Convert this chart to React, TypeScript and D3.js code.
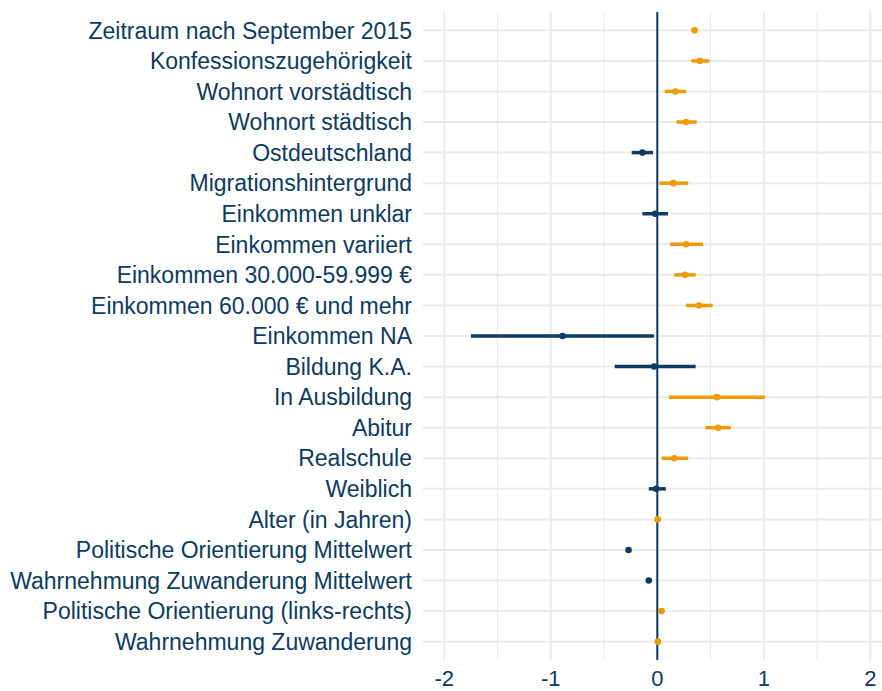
import React from 'react';
import * as d3 from 'd3';

// coefficient plot, rows from top to bottom
const labels = [
  'Zeitraum nach September 2015',
  'Konfessionszugehörigkeit',
  'Wohnort vorstädtisch',
  'Wohnort städtisch',
  'Ostdeutschland',
  'Migrationshintergrund',
  'Einkommen unklar',
  'Einkommen variiert',
  'Einkommen 30.000-59.999 €',
  'Einkommen 60.000 € und mehr',
  'Einkommen NA',
  'Bildung K.A.',
  'In Ausbildung',
  'Abitur',
  'Realschule',
  'Weiblich',
  'Alter (in Jahren)',
  'Politische Orientierung Mittelwert',
  'Wahrnehmung Zuwanderung Mittelwert',
  'Politische Orientierung (links-rechts)',
  'Wahrnehmung Zuwanderung',
];
const estimate = [0.35, 0.40, 0.17, 0.27, -0.14, 0.15, -0.02, 0.27, 0.26, 0.39, -0.89, -0.03, 0.56, 0.57, 0.16, -0.01, 0.003, -0.27, -0.08, 0.04, 0.006];
const lower = [0.33, 0.32, 0.07, 0.18, -0.24, 0.02, -0.14, 0.12, 0.16, 0.27, -1.75, -0.40, 0.11, 0.45, 0.04, -0.08, -0.003, -0.28, -0.09, 0.03, 0.0];
const upper = [0.37, 0.49, 0.27, 0.37, -0.04, 0.29, 0.10, 0.43, 0.36, 0.52, -0.03, 0.36, 1.01, 0.69, 0.29, 0.08, 0.01, -0.26, -0.07, 0.05, 0.012];
const xTicks = [-2, -1, 0, 1, 2];
const xMinor = [-1.5, -0.5, 0.5, 1.5];

const navy = '#0b3b63';
const orange = '#ee9a00';
const grid = '#ebebeb';

export default function App() {
  const width = 882;
  const height = 691;
  const panel = { left: 423, top: 12, bottom: 660 };

  const x = d3.scaleLinear().domain([-2.2, 2.2]).range([panel.left, panel.left + 4.4 * 106.5]);
  const y = d3.scalePoint<string>().domain(labels).range([panel.top, panel.bottom]).padding(0.6);

  const rows = labels.map((name, i) => ({
    name,
    est: estimate[i],
    lo: lower[i],
    hi: upper[i],
    color: estimate[i] > 0 ? orange : navy,
  }));

  const font = '"Liberation Sans", Arial, sans-serif';

  return (
    <svg width={width} height={height} style={{ position: 'absolute', left: 0, top: 0 }} fontFamily={font}>
      <rect width={width} height={height} fill="#fff" />
      {xMinor.map((t) => (
        <line key={'m' + t} x1={x(t)} x2={x(t)} y1={panel.top} y2={panel.bottom} stroke={grid} strokeWidth={1} />
      ))}
      {xTicks.map((t) => (
        <line key={'g' + t} x1={x(t)} x2={x(t)} y1={panel.top} y2={panel.bottom} stroke={grid} strokeWidth={2} />
      ))}
      {labels.map((l) => (
        <line key={'h' + l} x1={panel.left} x2={width} y1={y(l)} y2={y(l)} stroke={grid} strokeWidth={2} />
      ))}
      <line x1={x(0)} x2={x(0)} y1={panel.top} y2={panel.bottom} stroke={navy} strokeWidth={2} />
      {rows.map((r) => (
        <g key={r.name}>
          <line x1={x(r.lo)} x2={x(r.hi)} y1={y(r.name)} y2={y(r.name)} stroke={r.color} strokeWidth={3.5} />
          <circle cx={x(r.est)} cy={y(r.name)} r={3.3} fill={r.color} />
        </g>
      ))}
      {labels.map((l) => (
        <text key={'t' + l} x={412} y={(y(l) as number) + 8.2} textAnchor="end" fontSize={23} fill={navy}>
          {l}
        </text>
      ))}
      {xTicks.map((t) => (
        <text key={'x' + t} x={x(t)} y={686} textAnchor="middle" fontSize={22} fill={navy}>
          {t}
        </text>
      ))}
    </svg>
  );
}
